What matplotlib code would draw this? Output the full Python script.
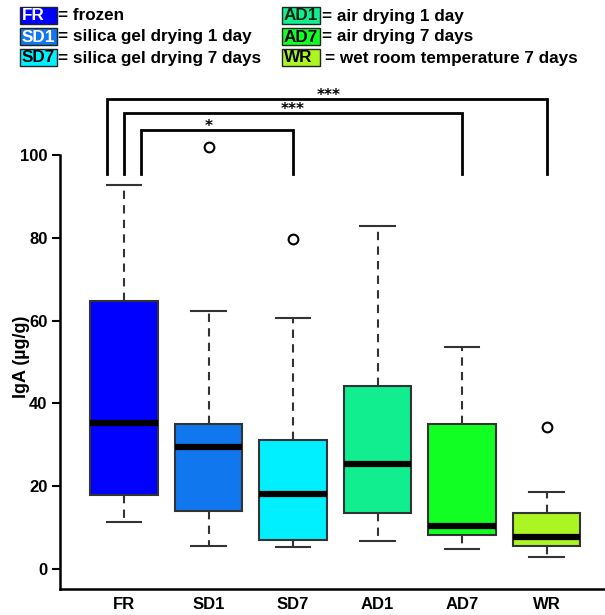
import matplotlib
matplotlib.use("Agg")
import matplotlib.pyplot as plt
from matplotlib.patches import Rectangle

plt.rcParams['font.family'] = ['Liberation Sans', 'DejaVu Sans']
plt.rcParams['font.weight'] = 'bold'

# Groups and summary statistics of IgA (µg/g)
groups = ["FR", "SD1", "SD7", "AD1", "AD7", "WR"]
medians = [35.3, 29.5, 18.1, 25.4, 10.4, 7.7]
q1 = [17.9, 13.9, 7.0, 13.6, 8.2, 5.6]
q3 = [64.7, 34.9, 31.2, 44.2, 35.1, 13.5]
whisker_low = [11.4, 5.6, 5.3, 6.8, 4.8, 2.8]
whisker_high = [92.8, 62.4, 60.5, 82.9, 53.6, 18.6]
outliers = [[], [101.9], [79.6], [], [], [34.3]]

colors = ["#0000FF", "#1177EE", "#00F0FF", "#11EE90", "#11FF22", "#AAF522"]

descriptions = ["frozen", "silica gel drying 1 day", "silica gel drying 7 days",
                "air drying 1 day", "air drying 7 days", "wet room temperature 7 days"]
legend_text_colors = ["white", "white", "black", "#112211", "black", "black"]

# Pairwise comparisons with FR: (first group, second group, label)
comparisons = [("FR", "SD7", "*"), ("FR", "AD7", "***"), ("FR", "WR", "***")]
bracket_heights = [106.0, 110.1, 113.5]

W, H = 605, 615
fig = plt.figure(figsize=(W / 100, H / 100), dpi=100)
ax = fig.add_axes([60 / W, (H - 589) / H, 1 - 60 / W, (589 - 80) / H])

stats = []
for i, g in enumerate(groups):
    stats.append(dict(med=medians[i], q1=q1[i], q3=q3[i],
                      whislo=whisker_low[i], whishi=whisker_high[i],
                      fliers=outliers[i], label=g))

positions = list(range(1, len(groups) + 1))
bp = ax.bxp(stats, positions=positions, widths=0.8, capwidths=0.41,
            patch_artist=True, showfliers=True,
            boxprops=dict(edgecolor="#333333", linewidth=1.5),
            medianprops=dict(color="black", linewidth=4.5, solid_capstyle="butt"),
            whiskerprops=dict(color="#333333", linewidth=1.5, linestyle=(0, (4, 3))),
            capprops=dict(color="#333333", linewidth=1.5),
            flierprops=dict(marker="o", markersize=7, markerfacecolor="none",
                            markeredgecolor="black", markeredgewidth=1.5))
for patch, c in zip(bp["boxes"], colors):
    patch.set_facecolor(c)

ax.set_xlim(0.243, 6.69)
ax.set_ylim(-4.85, 118.1)
ax.set_yticks([0, 20, 40, 60, 80, 100])
ax.set_xticks(positions)
ax.set_xticklabels(groups, fontsize=12, fontweight="bold")
ax.tick_params(axis="x", length=0, pad=6)
ax.tick_params(axis="y", length=6, width=1.5, labelsize=12, pad=3)
for lab in ax.get_yticklabels():
    lab.set_fontweight("bold")
ax.spines["top"].set_visible(False)
ax.spines["right"].set_visible(False)
ax.spines["left"].set_bounds(-4.85, 100)
ax.spines["left"].set_linewidth(1.8)
ax.spines["bottom"].set_linewidth(1.8)
ax.set_ylabel("IgA (µg/g)", fontsize=13, fontweight="bold")
ax.yaxis.set_label_coords(-0.055, 0.456)

# Significance brackets
left_offsets = [0.2, 0.0, -0.2]
star_shift = [-0.095, 0.0, 0.024]
for (a, b, lab), yb, off, sh in zip(comparisons, bracket_heights, left_offsets, star_shift):
    x0 = groups.index(a) + 1 + off
    x1 = groups.index(b) + 1
    ax.plot([x0, x0, x1, x1], [95.3, yb, yb, 95.3], color="black", lw=2,
            clip_on=False, solid_joinstyle="miter")
    ax.text((x0 + x1) / 2 + sh, yb - 0.2, lab, ha="center", va="baseline",
            fontsize=11, fontweight="bold", family="DejaVu Sans")

# Key of group abbreviations
def key_entry(x, y, w, abbr, desc, fc, tc, gap):
    fig.patches.append(Rectangle((x / W, 1 - (y + 17) / H), w / W, 17 / H,
                                 transform=fig.transFigure, facecolor=fc,
                                 edgecolor="#222222", linewidth=1.0))
    fig.text((x + 1.5) / W, 1 - (y + 9) / H, abbr, color=tc, fontsize=12.3,
             fontweight="bold", va="center", ha="left")
    fig.text((x + w + gap) / W, 1 - (y + 9) / H, "= " + desc, color="black",
             fontsize=12.3, fontweight="bold", va="center", ha="left")

rows_y = [7, 28, 49]
for i in range(3):
    key_entry(20, rows_y[i], 37, groups[i], descriptions[i], colors[i],
              legend_text_colors[i], 1.5)
for i in range(3, 6):
    gap = 5 if groups[i] == "WR" else 1.5
    key_entry(282, rows_y[i - 3], 38, groups[i], descriptions[i], colors[i],
              legend_text_colors[i], gap)

fig.savefig("out.png", dpi=100)
